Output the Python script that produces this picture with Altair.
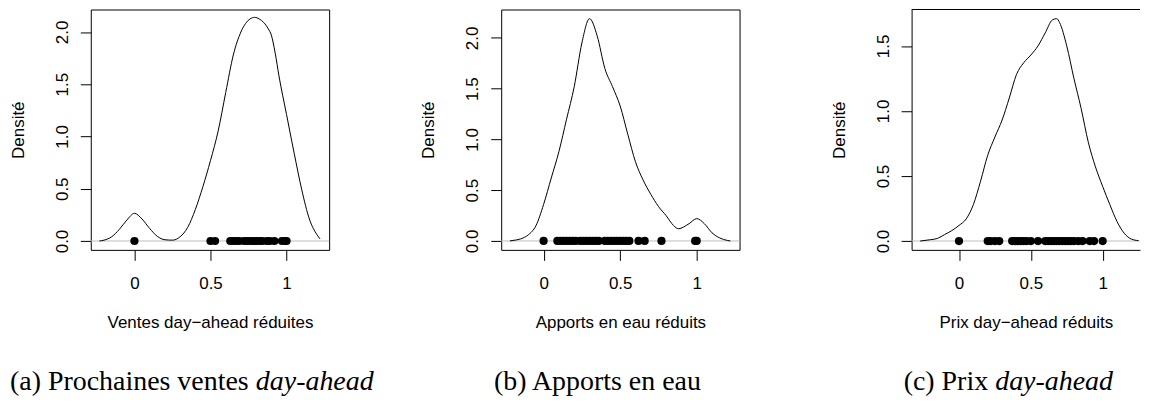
import altair as alt
import pandas as pd

# ---------------- data ----------------
# Panel (a): density of reduced day-ahead sales
a_x = [-0.23, -0.2, -0.15, -0.1, -0.05, 0.0, 0.05, 0.1, 0.15, 0.2, 0.25, 0.3, 0.35, 0.4, 0.45,
       0.5, 0.55, 0.6, 0.65, 0.7, 0.73, 0.76, 0.79, 0.82, 0.85, 0.88, 0.9, 0.925, 0.95, 1.0,
       1.05, 1.1, 1.15, 1.2, 1.22]
a_y = [0.0, 0.008, 0.04, 0.11, 0.20, 0.265, 0.21, 0.12, 0.045, 0.012, 0.008, 0.04, 0.13, 0.30, 0.52,
       0.77, 1.05, 1.42, 1.78, 2.0, 2.08, 2.125, 2.14, 2.125, 2.09, 2.03, 1.97, 1.80, 1.58, 1.21,
       0.84, 0.49, 0.21, 0.06, 0.02]
a_rug = [0, 0.50, 0.53, 0.63, 0.65, 0.67, 0.69, 0.72, 0.74, 0.76, 0.78, 0.80, 0.82, 0.84,
         0.87, 0.89, 0.92, 0.97, 0.99, 1.0]

# Panel (b): density of reduced water inflows
b_x = [-0.22, -0.2, -0.15, -0.1, -0.05, 0.0, 0.05, 0.1, 0.15, 0.2, 0.25, 0.3, 0.35, 0.4, 0.45,
       0.5, 0.55, 0.6, 0.65, 0.7, 0.75, 0.8, 0.85, 0.88, 0.95, 1.0, 1.05, 1.1, 1.15, 1.2, 1.22]
b_y = [0.0, 0.005, 0.02, 0.06, 0.15, 0.36, 0.62, 0.88, 1.2, 1.52, 1.95, 2.19, 2.02, 1.70, 1.52,
       1.33, 1.05, 0.78, 0.60, 0.46, 0.34, 0.25, 0.15, 0.12, 0.17, 0.22, 0.17, 0.08, 0.03, 0.005, 0.0]
b_rug = [0, 0.09, 0.11, 0.13, 0.15, 0.17, 0.19, 0.21, 0.24, 0.26, 0.28, 0.30, 0.32, 0.34, 0.36,
         0.40, 0.42, 0.44, 0.46, 0.48, 0.50, 0.52, 0.54, 0.56, 0.62, 0.66, 0.77, 0.99, 1.0]

# Panel (c): density of reduced day-ahead prices
c_x = [-0.27, -0.2, -0.15, -0.1, -0.05, 0.0, 0.05, 0.1, 0.15, 0.2, 0.25, 0.3, 0.35, 0.4, 0.45,
       0.5, 0.55, 0.6, 0.65, 0.68, 0.7, 0.75, 0.8, 0.85, 0.9, 0.95, 1.0, 1.05, 1.1, 1.15, 1.2, 1.25]
c_y = [0.0, 0.01, 0.02, 0.05, 0.08, 0.12, 0.17, 0.28, 0.46, 0.66, 0.80, 0.93, 1.10, 1.28, 1.37,
       1.43, 1.50, 1.60, 1.70, 1.71, 1.68, 1.50, 1.25, 1.02, 0.76, 0.57, 0.42, 0.28, 0.15, 0.06, 0.015, 0.003]
c_rug = [0, 0.20, 0.22, 0.25, 0.28, 0.37, 0.39, 0.41, 0.43, 0.45, 0.47, 0.50, 0.55, 0.60, 0.62,
         0.64, 0.66, 0.68, 0.70, 0.72, 0.74, 0.76, 0.78, 0.80, 0.83, 0.86, 0.91, 0.94, 1.0]

x_titles = ["Ventes day\u2212ahead r\u00e9duites", "Apports en eau r\u00e9duits", "Prix day\u2212ahead r\u00e9duits"]
y_title = "Densit\u00e9"
x_ticks = [0, 0.5, 1]
y_ticks_ab = [0, 0.5, 1.0, 1.5, 2.0]
y_ticks_c = [0, 0.5, 1.0, 1.5]
captions = [
    [("(a) Prochaines ventes ", "normal"), ("day-ahead", "italic")],
    [("(b) Apports en eau", "normal")],
    [("(c) Prix ", "normal"), ("day-ahead", "italic")],
]

# ---------------- styling ----------------
H = 241
SANS = "Liberation Sans"
SERIF = "Liberation Serif"
FS = 17
CAP_FS = 28
CAP_Y = H + 140


def make_panel(xs, ys, rug, xdom, ydom, yticks, xtitle, width, caption_parts, frame_by_axes):
    curve = pd.DataFrame({"x": xs, "y": ys})
    rugdf = pd.DataFrame({"x": rug, "y": [0.0] * len(rug)})
    zero = pd.DataFrame({"y": [0.0]})

    xscale = alt.Scale(domain=xdom, nice=False, zero=False)
    yscale = alt.Scale(domain=ydom, nice=False, zero=False)
    xaxis = alt.Axis(values=x_ticks, format="~g", title=xtitle, grid=False,
                     domain=frame_by_axes, domainColor="black", domainWidth=1,
                     tickSize=10.5, tickColor="black", labelPadding=15,
                     labelFont=SANS, labelFontSize=FS, labelColor="black",
                     titleFont=SANS, titleFontSize=FS, titleFontWeight="normal",
                     titleColor="black", titlePadding=23)
    yaxis = alt.Axis(values=yticks, format=".1f", title=y_title, grid=False,
                     domain=frame_by_axes, domainColor="black", domainWidth=1,
                     tickSize=10.5, tickColor="black", labelPadding=9,
                     labelAngle=270, labelAlign="center", labelBaseline="bottom",
                     labelFont=SANS, labelFontSize=FS, labelColor="black",
                     titleFont=SANS, titleFontSize=FS, titleFontWeight="normal",
                     titleColor="black", titlePadding=26)

    zero_line = alt.Chart(zero).mark_rule(color="#BEBEBE", strokeWidth=1).encode(
        y=alt.Y("y:Q", scale=yscale, axis=yaxis)
    )
    line = alt.Chart(curve).mark_line(color="black", strokeWidth=1, interpolate="monotone").encode(
        x=alt.X("x:Q", scale=xscale, axis=xaxis),
        y=alt.Y("y:Q", scale=yscale, axis=yaxis),
    )
    pts = alt.Chart(rugdf).mark_circle(color="black", size=68, opacity=1).encode(
        x=alt.X("x:Q", scale=xscale, axis=xaxis),
        y=alt.Y("y:Q", scale=yscale, axis=yaxis),
    )
    layers = [zero_line, line, pts]
    if frame_by_axes:
        top = pd.DataFrame({"y": [ydom[1]]})
        layers.append(alt.Chart(top).mark_rule(color="black", strokeWidth=1).encode(
            y=alt.Y("y:Q", scale=yscale, axis=yaxis)))

    for (txt, style, xpos, align) in caption_parts:
        cdf = pd.DataFrame({"t": [txt]})
        layers.append(alt.Chart(cdf).mark_text(
            font=SERIF, fontSize=CAP_FS, fontStyle=style, color="black",
            align=align, baseline="alphabetic"
        ).encode(x=alt.value(xpos), y=alt.value(CAP_Y), text="t:N"))

    ch = alt.layer(*layers).properties(width=width, height=H)
    if frame_by_axes:
        ch = ch.properties(view=alt.ViewBackground(stroke=None))
    return ch


pa = make_panel(a_x, a_y, a_rug, [-0.287, 1.28], [-0.085, 2.215], y_ticks_ab, x_titles[0], 239,
                [(captions[0][0][0], "normal", -81, "left"),
                 (captions[0][1][0], "italic", -81 + 246.5, "left")], False)
pb = make_panel(b_x, b_y, b_rug, [-0.277, 1.28], [-0.088, 2.28], y_ticks_ab, x_titles[1], 239,
                [(captions[1][0][0], "normal", 96.5, "center")], False)
pc = make_panel(c_x, c_y, c_rug, [-0.33, 1.26], [-0.068, 1.78], y_ticks_c, x_titles[2], 229,
                [(captions[2][0][0], "normal", -8, "left"),
                 (captions[2][1][0], "italic", -8 + 91.8, "left")], True)

chart = alt.hconcat(pa, pb, pc, spacing=172.5, bounds="flush").properties(
    padding={"left": 0, "top": 0, "right": 0, "bottom": 0},
    background="white",
).configure_view(stroke="black", strokeWidth=1)

chart.save("out.html", embed_options={"renderer": "svg", "actions": False})
